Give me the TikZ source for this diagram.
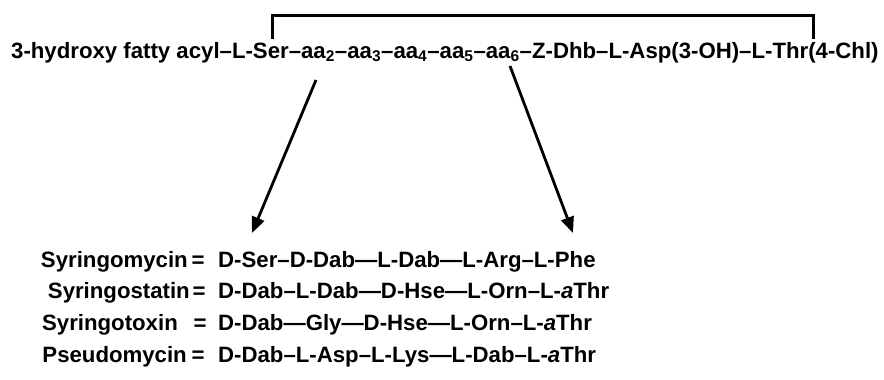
\documentclass[tikz,border=0pt]{standalone}
\usepackage{fontspec}
\setmainfont{Liberation Sans}
\usetikzlibrary{arrows.meta}
\begin{document}
\begin{tikzpicture}[x=1pt,y=-1pt,
  seq/.style={inner sep=0pt,font=\fontsize{22.2}{25}\bfseries},
  row/.style={inner sep=0pt,font=\fontsize{22.2}{25}\bfseries},
  bracket/.style={line width=3pt},
  arr/.style={line width=2.8pt,-{Triangle[length=16pt,width=13pt]}}]
\useasboundingbox (0,0) rectangle (884,380);
% core peptide
\node[seq,anchor=base west] (core) at (11,58)
  {3-hydroxy fatty acyl–L-Ser–aa\textsubscript{2}–aa\textsubscript{3}–aa\textsubscript{4}–aa\textsubscript{5}–aa\textsubscript{6}–Z-Dhb–L-Asp(3-OH)–L-Thr(4-Chl)};
% lactone ring bracket
\coordinate (ser) at (272,39);
\coordinate (thr) at (813,39);
\draw[bracket] (ser) |- (542,15) -| (thr);
% variable positions
\coordinate (aa2) at (316,80);
\coordinate (aa6) at (510,66);
\coordinate (left) at (252,233);
\coordinate (right) at (573,233);
\draw[arr] (aa2) -- (left);
\draw[arr] (aa6) -- (right);
% family members
\node[row,anchor=base east] (n1) at (188,267) {Syringomycin};
\node[row,anchor=base east] (n2) at (190,298) {Syringostatin};
\node[row,anchor=base east] (n3) at (178,330) {Syringotoxin};
\node[row,anchor=base east] (n4) at (187,362) {Pseudomycin};
\node[row,anchor=base] (e1) at (198,267) {=};
\node[row,anchor=base] (e2) at (199,298) {=};
\node[row,anchor=base] (e3) at (200,330) {=};
\node[row,anchor=base] (e4) at (198,362) {=};
\node[row,anchor=base west] (s1) at (218,267) {D-Ser–D-Dab—L-Dab—L-Arg–L-Phe};
\node[row,anchor=base west] (s2) at (218,298) {D-Dab–L-Dab—D-Hse—L-Orn–L-\textit{a}Thr};
\node[row,anchor=base west] (s3) at (218,330) {D-Dab—Gly—D-Hse—L-Orn–L-\textit{a}Thr};
\node[row,anchor=base west] (s4) at (218,362) {D-Dab–L-Asp–L-Lys—L-Dab–L-\textit{a}Thr};
\end{tikzpicture}
\end{document}
